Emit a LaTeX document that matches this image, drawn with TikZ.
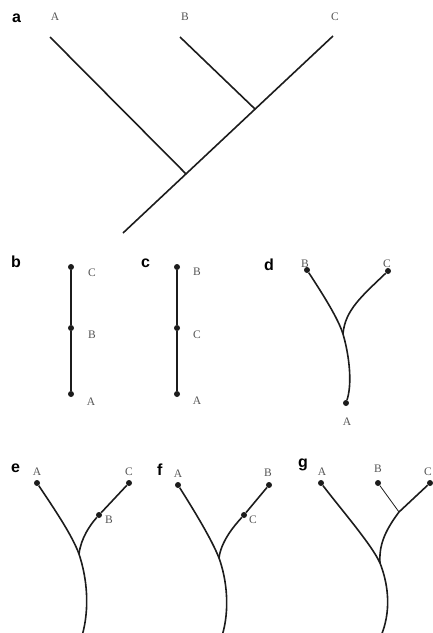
\documentclass[tikz,border=0pt]{standalone}
\usepackage{fontspec}
\setmainfont{Liberation Serif}
\setsansfont{Liberation Sans}
\usetikzlibrary{positioning, calc}
\definecolor{branch}{HTML}{1C1C1C}
\definecolor{taxongray}{HTML}{555555}

\begin{document}
\begin{tikzpicture}[
        x=1pt, y=-1pt,
        panel/.style={anchor=base west, inner sep=0pt, font=\sffamily\bfseries\fontsize{16}{16}\selectfont},
        taxon/.style={inner sep=0pt, text=taxongray, font=\fontsize{11.5}{11.5}\selectfont},
        tip/.style={circle, fill=branch, inner sep=0pt, minimum size=6pt},
        edge/.style={draw=branch, line width=1.6pt},
        thinedge/.style={draw=branch, line width=0.8pt}
    ]
    \useasboundingbox (0,0) rectangle (433,633);
    \clip (0,0) rectangle (433,633);

    % a: cladogram
    \node[panel] (pa) at (12,22) {a};
    \node[taxon] (aA) at (55,17) {A};
    \node[taxon] (aB) at (185,17) {B};
    \node[taxon] (aC) at (335,17) {C};
    \coordinate (aTipA) at (50,37);
    \coordinate (aTipB) at (180,37);
    \coordinate (aTipC) at (333,36);
    \coordinate (aRoot) at (123,233);
    \coordinate (aBC) at ($(aTipC)!0.371!(aRoot)$);
    \coordinate (aABC) at ($(aTipC)!0.70!(aRoot)$);
    \draw[edge] (aTipA) -- (aABC);
    \draw[edge] (aTipB) -- (aBC);
    \draw[edge] (aTipC) -- (aBC) -- (aABC) -- (aRoot);

    % b and c: ancestor-descendant chains
    \node[panel] (pb) at (11,267) {b};
    \node[tip] (bC) at (71,267) {};
    \node[tip] (bB) at (71,328) {};
    \node[tip] (bA) at (71,394) {};
    \draw[edge] (bC) -- (bB) -- (bA);
    \node[taxon] at (92,273) {C};
    \node[taxon] at (92,335) {B};
    \node[taxon] at (91,402) {A};

    \node[panel] (pc) at (141,267) {c};
    \node[tip] (cB) at (177,267) {};
    \node[tip] (cC) at (177,328) {};
    \node[tip] (cA) at (177,394) {};
    \draw[edge] (cB) -- (cC) -- (cA);
    \node[taxon] at (197,272) {B};
    \node[taxon] at (197,335) {C};
    \node[taxon] at (197,401) {A};

    % d
    \node[panel] (pd) at (264,270) {d};
    \node[tip] (dB) at (307,270) {};
    \node[tip] (dC) at (388,271) {};
    \node[tip] (dA) at (346,403) {};
    \coordinate (dJ) at (343,334);
    \draw[edge] (dB) .. controls (322,293) and (338,318) .. (dJ)
                     .. controls (350,358) and (352,385) .. (dA);
    \draw[edge] (dC) .. controls (362,296) and (345,310) .. (dJ);
    \node[taxon] at (305,264) {B};
    \node[taxon] at (387,264) {C};
    \node[taxon] at (347,422) {A};

    % e
    \node[panel] (pe) at (11,472) {e};
    \node[tip] (eA) at (37,483) {};
    \node[tip] (eC) at (129,483) {};
    \node[tip] (eB) at (99,515) {};
    \coordinate (eJ) at (79,554);
    \coordinate (eRoot) at (82,636);
    \draw[edge] (eA) .. controls (55,510) and (72,535) .. (eJ)
                     .. controls (87,578) and (90,608) .. (eRoot);
    \draw[edge] (eC) -- (eB) .. controls (90,525) and (81,538) .. (eJ);
    \node[taxon] at (37,472) {A};
    \node[taxon] at (129,472) {C};
    \node[taxon] at (109,520) {B};

    % f
    \node[panel] (pf) at (157,475) {f};
    \node[tip] (fA) at (178,485) {};
    \node[tip] (fB) at (269,485) {};
    \node[tip] (fC) at (244,515) {};
    \coordinate (fJ) at (219,558);
    \coordinate (fRoot) at (222,636);
    \draw[edge] (fA) .. controls (195,512) and (212,540) .. (fJ)
                     .. controls (227,580) and (230,610) .. (fRoot);
    \draw[edge] (fB) -- (fC) .. controls (233,527) and (221,542) .. (fJ);
    \node[taxon] at (178,474) {A};
    \node[taxon] at (268,473) {B};
    \node[taxon] at (253,520) {C};

    % g
    \node[panel] (pg) at (298,467) {g};
    \node[tip] (gA) at (321,483) {};
    \node[tip] (gB) at (378,483) {};
    \node[tip] (gC) at (430,483) {};
    \coordinate (gBC) at (399,512);
    \coordinate (gJ) at (380,563);
    \coordinate (gRoot) at (381,636);
    \draw[edge] (gA) .. controls (340,508) and (372,545) .. (gJ)
                     .. controls (389,586) and (391,612) .. (gRoot);
    \draw[edge] (gC) -- (gBC) .. controls (384,532) and (379,546) .. (gJ);
    \draw[thinedge] (gB) -- (gBC);
    \node[taxon] at (322,472) {A};
    \node[taxon] at (378,469) {B};
    \node[taxon] at (428,472) {C};

\end{tikzpicture}
\end{document}
